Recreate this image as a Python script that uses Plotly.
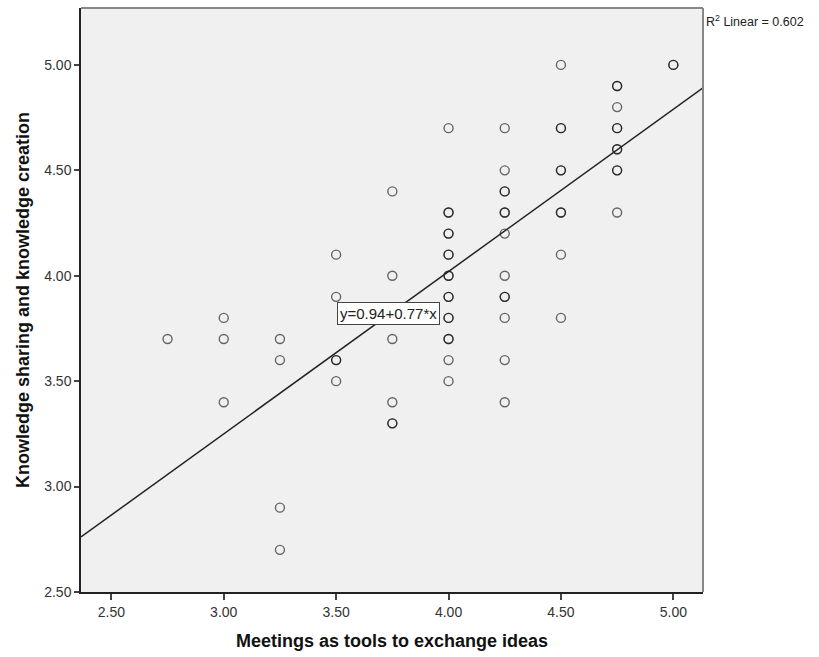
import plotly.graph_objects as go

# Scatter data: meetings score (x) vs knowledge sharing score (y); repeated pairs are kept
meetings = (
    [2.75]
    + [3.00] * 3
    + [3.25] * 4
    + [3.50] * 5
    + [3.75] * 6
    + [4.00] * 17
    + [4.25] * 13
    + [4.50] * 9
    + [4.75] * 10
    + [5.00] * 2
)
knowledge = (
    [3.70]
    + [3.80, 3.70, 3.40]
    + [3.70, 3.60, 2.90, 2.70]
    + [4.10, 3.90, 3.60, 3.60, 3.50]
    + [4.40, 4.00, 3.70, 3.40, 3.30, 3.30]
    + [4.70, 4.30, 4.30, 4.20, 4.20, 4.10, 4.10, 4.00, 4.00, 3.90, 3.90,
       3.80, 3.80, 3.70, 3.70, 3.60, 3.50]
    + [4.70, 4.50, 4.40, 4.40, 4.30, 4.30, 4.20, 4.00, 3.90, 3.90, 3.80,
       3.60, 3.40]
    + [5.00, 4.70, 4.70, 4.50, 4.50, 4.30, 4.30, 4.10, 3.80]
    + [4.90, 4.90, 4.80, 4.70, 4.70, 4.60, 4.60, 4.50, 4.50, 4.30]
    + [5.00, 5.00]
)

# Fitted linear model
intercept = 0.94
slope = 0.77
r_squared = 0.602

x_range = [2.365, 5.132]
y_range = [2.5, 5.27]
tick_vals_x = [2.5, 3.0, 3.5, 4.0, 4.5, 5.0]
tick_vals_y = [2.5, 3.0, 3.5, 4.0, 4.5, 5.0]

fit_x = x_range
fit_y = [intercept + slope * v for v in fit_x]

fig = go.Figure()
fig.add_trace(go.Scatter(
    x=meetings, y=knowledge, mode="markers",
    marker=dict(symbol="circle-open", size=9,
                color="rgba(0,0,0,0.58)", line=dict(width=1.4, color="rgba(0,0,0,0.58)")),
    hoverinfo="x+y", showlegend=False,
))
fig.add_trace(go.Scatter(
    x=fit_x, y=fit_y, mode="lines",
    line=dict(color="#222222", width=1.5),
    hoverinfo="skip", showlegend=False,
))

fig.add_annotation(
    x=3.733, y=3.82, xref="x", yref="y",
    text=f"y={intercept:.2f}+{slope:.2f}*x", showarrow=False,
    font=dict(family="Liberation Sans, Arial", size=15, color="#222222"),
    bgcolor="white", bordercolor="#444444", borderwidth=1, borderpad=2,
)
fig.add_annotation(
    x=1.0, y=1.0, xref="paper", yref="paper", xanchor="left", yanchor="top",
    xshift=1, yshift=-3,
    text=f"R<sup>2</sup> Linear = {r_squared:.3f}", showarrow=False,
    font=dict(family="Liberation Sans, Arial", size=12.5, color="#222222"),
)

# Gray frame on the top and right sides of the plotting area
fig.add_shape(type="line", xref="paper", yref="paper", x0=0, x1=1, y0=1, y1=1,
              line=dict(color="#888888", width=2))
fig.add_shape(type="line", xref="paper", yref="paper", x0=1, x1=1, y0=0, y1=1,
              line=dict(color="#888888", width=2))

axis_font = dict(family="Liberation Sans, Arial", size=14, color="#333333")
title_font = dict(family="Liberation Sans, Arial", size=18, color="#111111")

fig.update_xaxes(
    range=x_range, tickvals=tick_vals_x, ticktext=[f"{v:.2f}" for v in tick_vals_x],
    showgrid=False, zeroline=False, showline=True, linecolor="#222222", linewidth=1.5,
    ticks="outside", ticklen=6, tickwidth=1.5, tickcolor="#444444",
    tickfont=axis_font,
    title=dict(text="<b>Meetings as tools to exchange ideas</b>", font=title_font, standoff=16),
)
fig.update_yaxes(
    range=y_range, tickvals=tick_vals_y, ticktext=[f"{v:.2f}" for v in tick_vals_y],
    showgrid=False, zeroline=False, showline=True, linecolor="#222222", linewidth=1.5,
    ticks="outside", ticklen=5, tickwidth=1.5, tickcolor="#444444",
    tickfont=axis_font,
    title=dict(text="<b>Knowledge sharing and knowledge creation</b>", font=title_font, standoff=10),
)

fig.update_layout(
    width=819, height=657,
    margin=dict(l=81, r=116, t=8, b=65),
    paper_bgcolor="white", plot_bgcolor="#F0F0F0",
)

fig.write_html("out.html")
